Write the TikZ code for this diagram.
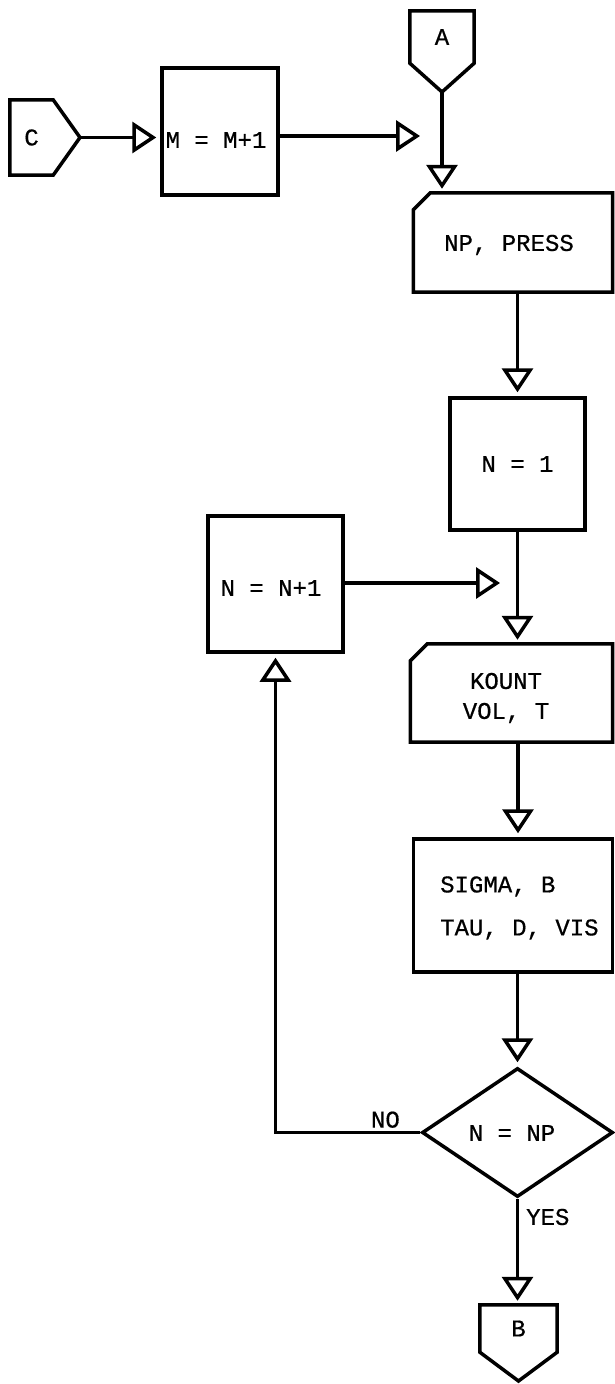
\documentclass[tikz,border=0pt]{standalone}
\usepackage{fontspec}
\setmonofont[FakeBold=0.6]{Liberation Mono}
\usetikzlibrary{arrows.meta,shapes.geometric}
\begin{document}
\begin{tikzpicture}[x=1pt,y=-1pt,
  every node/.style={font=\ttfamily\fontsize{24}{30}\selectfont},
  ln/.style={line width=3.5pt, line join=miter},
  boxs/.style={draw, line width=3.5pt, rectangle, inner sep=0pt},
  plain/.style={rectangle, inner sep=0pt},
  txt/.style={inner sep=0pt},
  flow/.style={ln, -{Triangle[open, length=24pt, width=31pt, line width=3.5pt]}},
  flowin/.style={flow, shorten >=4pt},
  dia/.style={draw, diamond, line width=3.5pt, inner sep=0pt, minimum width=191pt, minimum height=129pt}
]
\useasboundingbox (0,0) rectangle (615,1384);
\fill[white] (0,0) rectangle (615,1384);

% Connector C
\node[plain, minimum width=43pt, minimum height=75pt] (c) at (31.5,137.5) {C};
\coordinate (ctip) at (80,137.5);
\draw[ln] (c.north west) -- (c.north east) -- (ctip) -- (c.south east) -- (c.south west) -- cycle;

% M = M+1
\node[boxs, minimum width=116pt, minimum height=127pt] (m) at (220,131.5) {};
\node[txt] (mt) at (216,140) {M = M+1};

% Connector A
\node[plain, minimum width=64pt, minimum height=52pt] (a) at (442,37) {A};
\coordinate (atip) at (442,92);
\draw[ln] (a.south west) -- (a.north west) -- (a.north east) -- (a.south east) -- (atip) -- cycle;

% junction coordinate for M arrow
\coordinate (ja) at (420,136);

% NP, PRESS
\node[plain, minimum width=199pt, minimum height=99pt] (np) at (513,242.5) {};
\node[txt] (npt) at (509,245) {NP, PRESS};
\draw[ln] ([yshift=-17pt]np.north west) -- ([xshift=17pt]np.north west) -- (np.north east) -- (np.south east) -- (np.south west) -- cycle;

% N = 1
\node[boxs, minimum width=135pt, minimum height=132pt] (n1) at (517.5,464) {N = 1};

% N = N+1
\node[boxs, minimum width=135pt, minimum height=136pt] (nn) at (275.5,584) {};
\node[txt] (nnt) at (271,588) {N = N+1};
\coordinate (jb) at (500,583);

% KOUNT
\node[plain, minimum width=202pt, minimum height=98pt] (k) at (511.5,693) {};
\node[txt, align=center] (kt) at (506,698) {KOUNT\\VOL, T};
\draw[ln] ([yshift=-17pt]k.north west) -- ([xshift=17pt]k.north west) -- (k.north east) -- (k.south east) -- (k.south west) -- cycle;

% SIGMA
\node[boxs, minimum width=199pt, minimum height=133pt] (s) at (513,905.5) {};
\node[txt, align=left, anchor=west] (st) at (440,908) {SIGMA, B\\[13pt]TAU, D, VIS};

% Decision
\node[dia] (d) at (517.5,1132.5) {};
\node[txt] (dt) at (512,1133) {N = NP};
\node[txt, anchor=south east] (no) at (400,1128) {NO};
\node[txt, anchor=west] (yes) at (526,1217) {YES};

% Connector B
\node[plain, minimum width=77pt, minimum height=47pt] (b) at (518.5,1328.5) {B};
\coordinate (btip) at (518.5,1381);
\draw[ln] (b.south west) -- (b.north west) -- (b.north east) -- (b.south east) -- (btip) -- cycle;

% Connectors
\draw[flowin] (ctip) -- (ctip -| m.west);
\draw[flow] (m.east |- ja) -- (ja);
\draw[flowin] (atip) -- (atip |- np.north);
\draw[flowin] (n1.north |- np.south) -- (n1.north);
\draw[flow] (nn.east |- jb) -- (jb);
\draw[flowin] (n1.south) -- (n1.south |- k.north);
\draw[flowin] (k.south -| 518,0) -- (s.north -| 518,0);
\draw[flowin] (s.south -| d.north) -- (d.north);
\draw[flowin] (d.west) -- (nn.south |- d.west) -- (nn.south);
\draw[flowin] (d.south) -- (d.south |- b.north);
\end{tikzpicture}
\end{document}
